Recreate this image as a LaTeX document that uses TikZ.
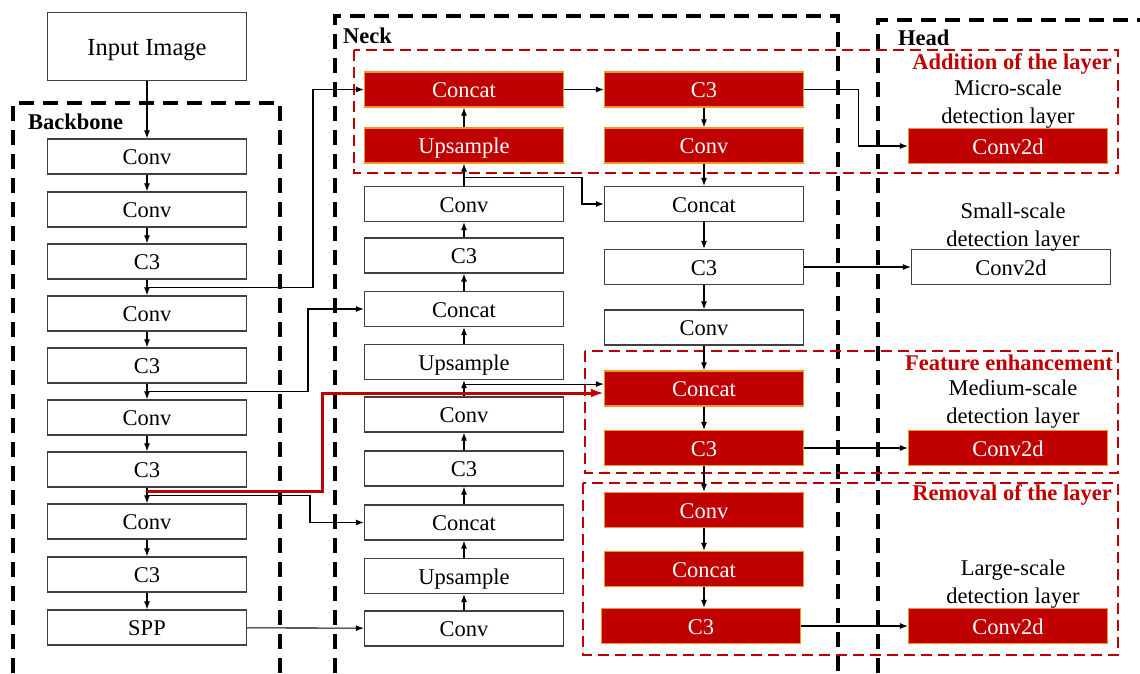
\documentclass[tikz,border=0pt]{standalone}
\usepackage{fontspec}
\setmainfont{Liberation Serif}
\usetikzlibrary{arrows.meta,calc}
\definecolor{darkred}{RGB}{192,0,0}
\definecolor{rimorange}{RGB}{240,150,40}

\begin{document}
\begin{tikzpicture}[x=1pt,y=-1pt,
    box/.style={draw=black!75,line width=1.2pt,minimum width=199pt,minimum height=35pt,inner sep=0pt,
        text height=18pt,text depth=2pt,font=\fontsize{22.5}{27}\selectfont},
    redbox/.style={box,draw=rimorange,fill=darkred,text=white},
    arr/.style={-{Latex[length=8pt,width=6pt]},line width=1.1pt},
    redarr/.style={-{Latex[length=13pt,width=9pt]},line width=3pt,draw=darkred},
    part/.style={dash pattern=on 15pt off 9pt,line width=3.2pt},
    zone/.style={dash pattern=on 11pt off 6pt,line width=2.4pt,draw=darkred},
    note/.style={font=\fontsize{22.5}{28}\selectfont,align=center,inner sep=0pt},
    tag/.style={font=\bfseries\fontsize{22.5}{27}\selectfont,anchor=west,inner sep=0pt},
    redtag/.style={tag,anchor=east,text=darkred}]
    \useasboundingbox (0,0) rectangle (1140,673);
    % parts
    \draw[part] (13,673) |- (280,103) -- (280,673);
    \draw[part] (335,673) |- (838,16) -- (838,673);
    \draw[part] (878,673) |- (1140,20);
    \node[tag] (backbone) at (28,122) {Backbone};
    \node[tag] (neck) at (343,36) {Neck};
    \node[tag] (head) at (898,38) {Head};
    % changed zones
    \draw[zone] (354,50) rectangle (1118,173);
    \draw[zone] (585,351) rectangle (1118,473);
    \draw[zone] (583,483) rectangle (1118,655);
    \node[redtag] (addition) at (1112,64) {Addition of the layer};
    \node[redtag] (enhance) at (1113,363) {Feature enhancement};
    \node[redtag] (removal) at (1112,495) {Removal of the layer};
    % backbone
    \node[box,minimum height=68pt,text height=19.5pt,font=\fontsize{24.5}{29}\selectfont] (in) at (147,46.5) {Input Image};
    \foreach \name/\txt/\y in {b1/Conv/156.5,b2/Conv/209.5,b3/C3/261.5,b4/Conv/313.5,b5/C3/365.5,
        b6/Conv/417.5,b7/C3/469.5,b8/Conv/521.5,b9/C3/574.5,b10/SPP/627.5}
        \node[box] (\name) at (147,\y) {\txt};
    % neck
    \node[redbox] (n1) at (464,89.5) {Concat};
    \node[redbox] (n2) at (464,145.5) {Upsample};
    \foreach \name/\txt/\y in {n3/Conv/204,n4/C3/255.5,n5/Concat/309,n6/Upsample/362,n7/Conv/414.5,
        n8/C3/468.5,n9/Concat/522.5,n10/Upsample/576,n11/Conv/628.5}
        \node[box] (\name) at (464,\y) {\txt};
    \node[redbox] (r1) at (704,89.5) {C3};
    \node[redbox] (r2) at (704,145.5) {Conv};
    \node[box] (r3) at (704,204) {Concat};
    \node[box] (r4) at (704,267) {C3};
    \node[box] (r5) at (704,327.5) {Conv};
    \foreach \name/\txt/\y in {r6/Concat/388.5,r7/C3/448,r8/Conv/510,r9/Concat/569}
        \node[redbox] (\name) at (704,\y) {\txt};
    \node[redbox] (r10) at (701,626) {C3};
    % head
    \node[redbox] (h1) at (1008,146) {Conv2d};
    \node[box] (h2) at (1011,267) {Conv2d};
    \node[redbox] (h3) at (1008,448) {Conv2d};
    \node[redbox] (h4) at (1008,626) {Conv2d};
    \node[note] (micro) at (1008,104) {Micro-scale\\detection layer};
    \node[note] (small) at (1013,227) {Small-scale\\detection layer};
    \node[note] (medium) at (1013,404) {Medium-scale\\detection layer};
    \node[note] (large) at (1013,584) {Large-scale\\detection layer};
    % chains
    \foreach \a/\b in {in/b1,b1/b2,b2/b3,b3/b4,b4/b5,b5/b6,b6/b7,b7/b8,b8/b9,b9/b10}
        \draw[arr] (\a.south) -- (\b.north);
    \foreach \a/\b in {n11/n10,n10/n9,n9/n8,n8/n7,n7/n6,n6/n5,n5/n4,n4/n3,n3/n2,n2/n1}
        \draw[arr] (\a.north) -- (\b.south);
    \foreach \a/\b in {r1/r2,r2/r3,r3/r4,r4/r5,r5/r6,r6/r7,r7/r8,r8/r9,r9/r10}
        \draw[arr] (\a.south) -- (\a.south |- \b.north);
    \draw[arr] (n1) -- (r1);
    % skips
    \coordinate (j1) at ($(b3.south)!0.5!(b4.north)$);
    \coordinate (j2) at ($(b5.south)!0.5!(b6.north)$);
    \coordinate (j3) at ($(b7.south)!0.5!(b8.north)$);
    \coordinate (jt) at ($(n3.north)+(0,-8)$);
    \coordinate (jn) at ($(n6.south)+(0,4)$);
    \draw[arr] (j1) -- ++(166,0) |- (n1.west);
    \draw[arr] (j2) -- ++(161,0) |- (n5.west);
    \draw[arr] (j3) -- ++(163,0) |- (n9.west);
    \draw[redarr] ($(j3)+(0,-4)$) -- ++(175,0) |- ($(r6.west)+(0,4.5)$);
    \draw[arr] (jt) -- ++(118,0) |- (r3.west);
    \draw[arr] (jn) -- (r6.west |- jn);
    \draw[arr] (b10) -- (n11);
    % outputs
    \draw[arr] (r1.east) -- ++(54,0) |- (h1.west);
    \draw[arr] (r4) -- (h2);
    \draw[arr] (r7) -- (h3);
    \draw[arr] (r10) -- (h4);
\end{tikzpicture}
\end{document}
